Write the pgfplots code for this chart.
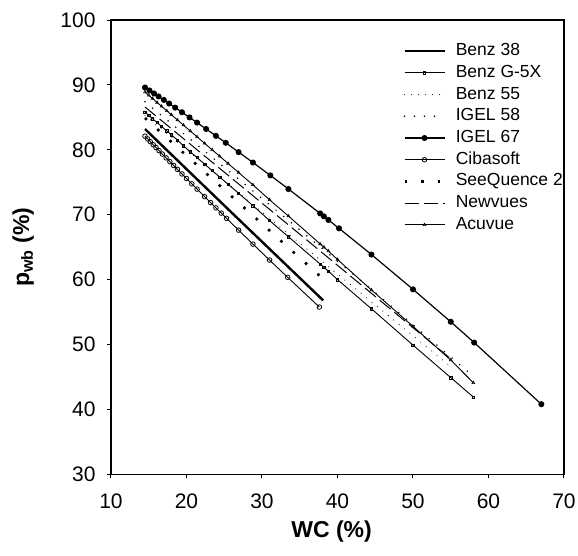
\documentclass[border=0pt]{standalone}
\usepackage{fontspec}
\setmainfont{Liberation Sans}
\usepackage{pgfplots}
\pgfplotsset{compat=1.18}
\begin{document}
\begin{tikzpicture}
\path[use as bounding box] (-111pt,-80.7pt) rectangle (467pt,474.3pt);
\begin{axis}[
  at={(0pt,0pt)}, anchor=south west,
  width=453pt, height=454.3pt, scale only axis,
  xmin=10, xmax=70, ymin=30, ymax=100,
  xtick={10,20,...,70}, ytick={30,40,...,100},
  tick pos=left, tick align=outside, major tick length=4pt,
  every tick/.style={black, line width=1pt},
  axis line style={line width=1.2pt},
  tick label style={font=\fontsize{21}{24}\selectfont},
  yticklabel style={xshift=-8pt},
  xticklabel style={yshift=-12pt},
  /pgf/number format/assume math mode=true,
  xlabel={\textbf{WC (\%)}}, ylabel={\textbf{p\textsubscript{wb} (\%)}},
  label style={font=\fontsize{23}{26}\selectfont},
  xlabel style={at={(axis description cs:0.487,-0.1255)}, anchor=center},
  ylabel style={at={(axis description cs:-0.1940,0.5)}, anchor=center},
  legend style={draw=none, fill=none, at={(axis description cs:0.638,0.9538)}, anchor=north west,
    font=\fontsize{17.5}{20}\selectfont,
    nodes={inner sep=0pt, text height=12.5pt, text depth=3.5pt},
    /tikz/row sep=5.7pt, /tikz/column sep=10pt},
  legend cell align=left,
  legend image code/.code={\draw[mark repeat=2,mark phase=2,#1] plot coordinates {(0pt,0pt) (20pt,0pt) (40pt,0pt)};},
]
% Benz 38
\addplot[black, line width=2.4pt] coordinates {(14.5,83.2) (26.0,70.3) (38.1,56.8)};
\addlegendentry{Benz 38}
% Benz G-5X
\addplot[black, line width=0.9pt, mark=square, mark size=1.2pt, mark options={solid, line width=0.6pt, fill=white}] coordinates {
(14.5,85.8) (15.0,85.3) (15.5,84.8) (16.1,84.2) (16.7,83.6) (17.4,82.9) (18.0,82.3) (18.8,81.5) (19.6,80.6) (20.5,79.7) (21.4,78.8) (22.4,77.8) (23.4,76.8) (24.4,75.8) (25.5,74.7) (26.9,73.3) (28.8,71.4) (31.0,69.1) (33.5,66.6) (37.7,62.4) (38.2,61.9) (38.8,61.3) (40.0,60.0) (44.5,55.5) (50.0,49.9) (55.0,44.9) (58.0,41.9)};
\addlegendentry{Benz G-5X}
% Benz 55
\addplot[black, line width=1.1pt, line cap=round, dash pattern=on 0pt off 7pt] coordinates {(14.5,85.3) (35.0,65.6) (55.0,46.6)};
\addlegendentry{Benz 55}
% IGEL 58
\addplot[black, line width=1.7pt, line cap=round, dash pattern=on 0pt off 10pt] coordinates {(14.5,87.4) (30.0,72.5) (45.0,58.0) (58.0,45.1)};
\addlegendentry{IGEL 58}
% IGEL 67
\addplot[black, line width=1.2pt, mark=*, mark size=2.4pt, mark options={solid}] coordinates {
(14.5,89.60) (15.1,89.14) (15.7,88.68) (16.3,88.22) (17.0,87.69) (17.7,87.13) (18.5,86.50) (19.4,85.79) (20.4,84.99) (21.4,84.19) (22.6,83.21) (23.9,82.15) (25.2,81.08) (26.9,79.65) (28.8,78.04) (31.1,76.06) (33.5,73.96) (37.7,70.20) (38.2,69.74) (38.8,69.19) (40.2,67.90) (44.5,63.86) (50.0,58.50) (55.0,53.50) (58.1,50.30) (67.0,40.80)};
\addlegendentry{IGEL 67}
% Cibasoft
\addplot[black, line width=0.9pt, mark=o, mark size=2.3pt, mark options={solid, fill=white, line width=0.8pt}] coordinates {
(14.5,82.10) (14.86,81.67) (15.2,81.26) (15.6,80.78) (15.96,80.35) (16.36,79.88) (16.8,79.35) (17.3,78.76) (17.8,78.17) (18.3,77.58) (18.8,76.99) (19.4,76.28) (20.0,75.58) (20.7,74.76) (21.4,73.94) (22.4,72.78) (23.2,71.86) (23.9,71.05) (24.6,70.25) (25.3,69.44) (26.9,67.62) (28.8,65.47) (31.0,63.01) (33.4,60.35) (37.6,55.77)};
\addlegendentry{Cibasoft}
% SeeQuence 2
\addplot[black, line width=2.6pt, dash pattern=on 2.6pt off 14pt] coordinates {(14.5,84.9) (26.0,72.8) (38.0,60.2)};
\addlegendentry{SeeQuence 2}
% Newvues
\addplot[black, line width=1pt, dash pattern=on 14pt off 5pt] coordinates {(14.5,86.6) (35.0,67.0) (55.1,47.7)};
\addlegendentry{Newvues}
% Acuvue
\addplot[black, line width=0.9pt, mark=triangle, mark size=1.6pt, mark options={solid, line width=0.6pt}] coordinates {
(14.5,88.9) (15.0,88.4) (15.5,87.9) (16.1,87.3) (16.7,86.7) (17.4,86.0) (18.0,85.4) (18.8,84.6) (19.6,83.8) (20.5,82.9) (21.4,82.0) (22.4,81.0) (23.4,80.0) (24.4,79.0) (25.5,77.9) (26.9,76.5) (28.8,74.6) (31.0,72.3) (33.5,69.8) (37.7,65.5) (38.2,65.0) (38.8,64.4) (40.0,63.1) (44.5,58.4) (50.0,52.8) (55.0,47.6) (58.0,44.1)};
\addlegendentry{Acuvue}
\end{axis}
\end{tikzpicture}
\end{document}
